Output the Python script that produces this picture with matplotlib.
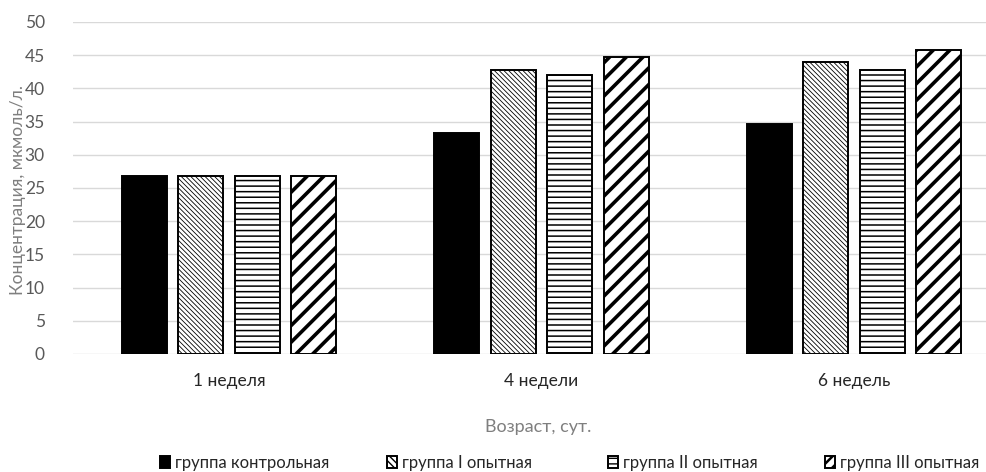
import matplotlib
matplotlib.use("Agg")
import matplotlib.pyplot as plt
import numpy as np

categories = ["1 неделя", "4 недели", "6 недель"]
series_names = ["группа контрольная", "группа I опытная", "группа II опытная", "группа III опытная"]
control = [26.8, 33.3, 34.6]
group1 = [26.8, 42.7, 44.0]
group2 = [26.8, 42.0, 42.7]
group3 = [26.8, 44.8, 45.8]
yticks = [0, 5, 10, 15, 20, 25, 30, 35, 40, 45, 50]

plt.rcParams['font.family'] = ['Lato', 'DejaVu Sans']
plt.rcParams['hatch.color'] = 'black'

W, H = 987, 472
fig = plt.figure(figsize=(W / 100, H / 100), dpi=100)
ax_left, ax_right = 72.7, 72.7 + 937.5
ax_bot, ax_top = 354, 22
ax = fig.add_axes([ax_left / W, (H - ax_bot) / H, (ax_right - ax_left) / W, (ax_bot - ax_top) / H])

x = np.arange(len(categories))
pitch = 0.181
width = 0.144
styles = [
    dict(facecolor='black', hatch=None, hlw=1.0),
    dict(facecolor='white', hatch='\\' * 7, hlw=0.6),
    dict(facecolor='white', hatch='---', hlw=1.1),
    dict(facecolor='white', hatch='//', hlw=2.6),
]
data = [control, group1, group2, group3]
handles = []
for i, (vals, st) in enumerate(zip(data, styles)):
    bars = ax.bar(x + (i - 1.5) * pitch, vals, width, facecolor=st['facecolor'],
                  edgecolor='black', linewidth=1.4, hatch=st['hatch'], zorder=3,
                  label=series_names[i])
    for b in bars:
        try:
            b.set_hatch_linewidth(st['hlw'])
        except Exception:
            pass
    handles.append(bars)

ax.set_xlim(-0.5, 2.5)
ax.set_ylim(0, 50)
ax.set_yticks(yticks)
ax.set_xticks(x)
ax.set_xticklabels(categories, fontsize=12.5, color='#262626')
ax.tick_params(axis='y', labelsize=12.5, labelcolor='#595959', length=0, pad=20)
ax.tick_params(axis='x', length=0, pad=14)
ax.grid(axis='y', color='#d9d9d9', linewidth=1.0, zorder=0)
for s in ax.spines.values():
    s.set_visible(False)

fig.text(18 / W, (H - 190) / H, "Концентрация, мкмоль/л.", rotation=90, ha='center', va='center',
         fontsize=12.5, color='#7f7f7f')
fig.text(538 / W, (H - 427) / H, "Возраст, сут.", ha='center', va='center',
         fontsize=13, color='#7f7f7f')

leg_x = [160, 387, 608, 825]
leg_hatch = [None, '\\' * 5, '---', '///']
for hx, hnd, name, st, lh in zip(leg_x, handles, series_names, styles, leg_hatch):
    lg = fig.legend([hnd], [name], loc='center left', bbox_to_anchor=(hx / W, (H - 463) / H),
                    frameon=False, fontsize=12, handlelength=0.6, handleheight=0.75,
                    handletextpad=0.3, borderpad=0, borderaxespad=0, labelcolor='#262626')
    for p in lg.legend_handles:
        p.set_hatch(lh)
        try:
            p.set_hatch_linewidth(1.0 if lh != '///' else 1.8)
        except Exception:
            pass

fig.savefig("out.png", dpi=100)
